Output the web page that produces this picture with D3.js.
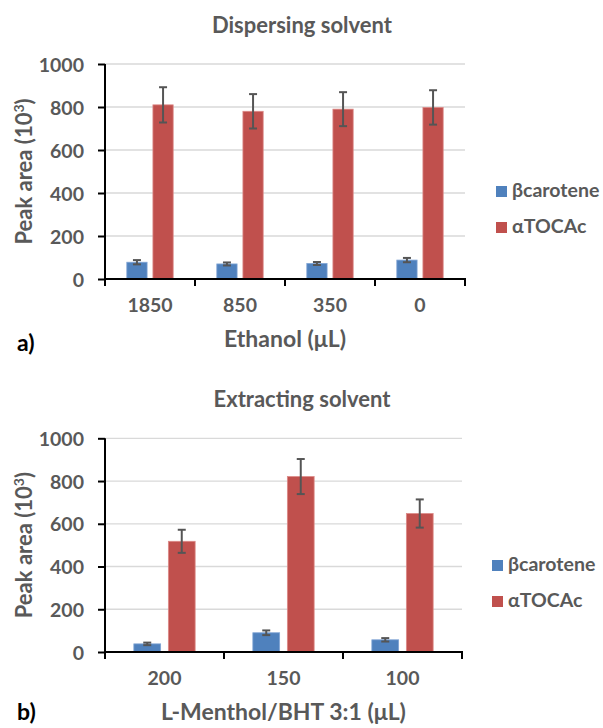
<!DOCTYPE html>
<html>
<head>
<meta charset="utf-8">
<script src="https://cdn.jsdelivr.net/npm/d3@7"></script>
<style>
  body { margin: 0; background: #fff; }
  text { font-family: Lato, "Open Sans", sans-serif; font-weight: bold; }
</style>
</head>
<body>
<div id="chart"></div>
<script>
const seriesNames = ["βcarotene", "αTOCAc"]
const seriesColors = ["#4f81bd", "#c0504d"]
const yTicks = [0, 200, 400, 600, 800, 1000]

// panel a: dispersing solvent
const ethanolLabels = ["1850", "850", "350", "0"]
const ethanolBeta = [78, 70, 72, 88]
const ethanolBetaErr = [10, 7, 7, 10]
const ethanolAlpha = [810, 780, 790, 798]
const ethanolAlphaErr = [82, 80, 79, 80]

// panel b: extracting solvent
const mentholLabels = ["200", "150", "100"]
const mentholBeta = [38, 90, 57]
const mentholBetaErr = [6, 11, 8]
const mentholAlpha = [518, 821, 648]
const mentholAlphaErr = [54, 82, 66]

const textColor = "#595959"
const tickFont = 19.5

const svg = d3.select("#chart").append("svg").attr("width", 603).attr("height", 728)

function panel(opts) {
  const { title, xTitle, letter, letterY, labels, values, errors, left, right, top, bottom, titleY, legendY, legendX } = opts

  const g = svg.append("g")

  // 1. scales
  const xScale = d3.scaleBand().domain(labels).range([left, right]).paddingInner(0).paddingOuter(0)
  const subScale = d3
    .scaleBand()
    .domain(seriesNames)
    .range([0, xScale.bandwidth()])
    .paddingInner(0.224)
    .paddingOuter(0.836)
  const yScale = d3.scaleLinear().domain([0, 1000]).range([bottom, top])

  // 2. gridlines
  g.append("g")
    .selectAll("line")
    .data(yTicks.slice(1))
    .enter()
    .append("line")
    .attr("x1", left)
    .attr("x2", right)
    .attr("y1", (d) => yScale(d))
    .attr("y2", (d) => yScale(d))
    .attr("stroke", "#d9d9d9")
    .attr("stroke-width", 1.3)

  // 3. bars
  const rows = labels.map((label, i) =>
    seriesNames.map((s, k) => ({ label, series: s, k, value: values[k][i], err: errors[k][i] }))
  )
  const groups = g
    .selectAll(".cat")
    .data(rows)
    .enter()
    .append("g")
    .attr("transform", (d, i) => `translate(${xScale(labels[i])}, 0)`)

  groups
    .selectAll("rect")
    .data((d) => d)
    .enter()
    .append("rect")
    .attr("x", (d) => subScale(d.series))
    .attr("y", (d) => yScale(d.value))
    .attr("width", subScale.bandwidth())
    .attr("height", (d) => yScale(0) - yScale(d.value))
    .attr("fill", (d) => seriesColors[d.k])
    .attr("stroke", (d) => (d.k === 0 ? "#7ea3d4" : "#dc8a88"))
    .attr("stroke-width", 0.8)

  // 4. error bars
  const errs = groups.selectAll(".err").data((d) => d).enter().append("g").attr("class", "err")
  const cx = (d) => subScale(d.series) + subScale.bandwidth() / 2
  errs
    .append("line")
    .attr("x1", cx)
    .attr("x2", cx)
    .attr("y1", (d) => yScale(d.value + d.err))
    .attr("y2", (d) => yScale(d.value - d.err))
  errs
    .append("line")
    .attr("x1", (d) => cx(d) - 4)
    .attr("x2", (d) => cx(d) + 4)
    .attr("y1", (d) => yScale(d.value + d.err))
    .attr("y2", (d) => yScale(d.value + d.err))
  errs
    .append("line")
    .attr("x1", (d) => cx(d) - 4)
    .attr("x2", (d) => cx(d) + 4)
    .attr("y1", (d) => yScale(d.value - d.err))
    .attr("y2", (d) => yScale(d.value - d.err))
  errs.selectAll("line").attr("stroke", "#555").attr("stroke-width", 2)

  // 5. axes
  const yAxis = d3.axisLeft(yScale).tickValues(yTicks).tickFormat(d3.format("d")).tickSize(7).tickPadding(14)
  const yG = g.append("g").attr("transform", `translate(${left}, 0)`).call(yAxis)
  yG.select(".domain").attr("stroke", "#000").attr("stroke-width", 2).attr("d", `M0,${bottom + 1}V${top}`)
  yG.selectAll(".tick line").attr("stroke", "#000").attr("stroke-width", 2)
  yG.selectAll(".tick text").attr("fill", textColor).attr("font-size", tickFont).attr("dy", "0.36em")

  g.append("line")
    .attr("x1", left - 1)
    .attr("x2", right + 1)
    .attr("y1", bottom)
    .attr("y2", bottom)
    .attr("stroke", "#000")
    .attr("stroke-width", 2)
  const bounds = labels.map((l) => xScale(l)).concat([right])
  g.append("g")
    .selectAll("line")
    .data(bounds)
    .enter()
    .append("line")
    .attr("x1", (d) => d)
    .attr("x2", (d) => d)
    .attr("y1", bottom)
    .attr("y2", bottom + 7)
    .attr("stroke", "#000")
    .attr("stroke-width", 2)
  g.append("g")
    .selectAll("text")
    .data(labels)
    .enter()
    .append("text")
    .attr("x", (d) => xScale(d) + xScale.bandwidth() / 2)
    .attr("y", bottom + 33)
    .attr("text-anchor", "middle")
    .attr("fill", textColor)
    .attr("font-size", tickFont)
    .text((d) => d)

  // 6. titles
  g.append("text")
    .attr("x", 302)
    .attr("y", titleY)
    .attr("text-anchor", "middle")
    .attr("fill", textColor)
    .attr("font-size", 22)
    .text(title)
  g.append("text")
    .attr("x", (left + right) / 2)
    .attr("y", bottom + 68)
    .attr("text-anchor", "middle")
    .attr("fill", textColor)
    .attr("font-size", 23)
    .text(xTitle)
  const yt = g
    .append("text")
    .attr("transform", `translate(32, ${(top + bottom) / 2}) rotate(-90)`)
    .attr("text-anchor", "middle")
    .attr("fill", textColor)
    .attr("font-size", 22)
  yt.append("tspan").text("Peak area (10")
  yt.append("tspan").attr("font-size", 14).attr("dy", -8).text("3")
  yt.append("tspan").attr("dy", 8).text(")")
  g.append("text")
    .attr("x", 17)
    .attr("y", letterY)
    .attr("fill", "#000")
    .attr("font-size", 23)
    .text(letter)

  // 7. legend
  const leg = g
    .selectAll(".leg")
    .data(seriesNames)
    .enter()
    .append("g")
    .attr("transform", (d, i) => `translate(${legendX}, ${legendY + i * 36})`)
  leg.append("rect").attr("width", 11).attr("height", 11).attr("fill", (d, i) => seriesColors[i])
  leg
    .append("text")
    .attr("x", 16)
    .attr("y", 11)
    .attr("fill", textColor)
    .attr("font-size", tickFont)
    .text((d) => d)
}

panel({
  title: "Dispersing solvent",
  xTitle: "Ethanol (μL)",
  letter: "a)",
  letterY: 351,
  labels: ethanolLabels,
  values: [ethanolBeta, ethanolAlpha],
  errors: [ethanolBetaErr, ethanolAlphaErr],
  left: 105,
  right: 465,
  top: 64,
  bottom: 279,
  titleY: 33,
  legendX: 496,
  legendY: 186,
})

panel({
  title: "Extracting solvent",
  xTitle: "L-Menthol/BHT 3:1 (μL)",
  letter: "b)",
  letterY: 720,
  labels: mentholLabels,
  values: [mentholBeta, mentholAlpha],
  errors: [mentholBetaErr, mentholAlphaErr],
  left: 105,
  right: 462,
  top: 438.3,
  bottom: 652,
  titleY: 407,
  legendX: 492,
  legendY: 560,
})
</script>
</body>
</html>
